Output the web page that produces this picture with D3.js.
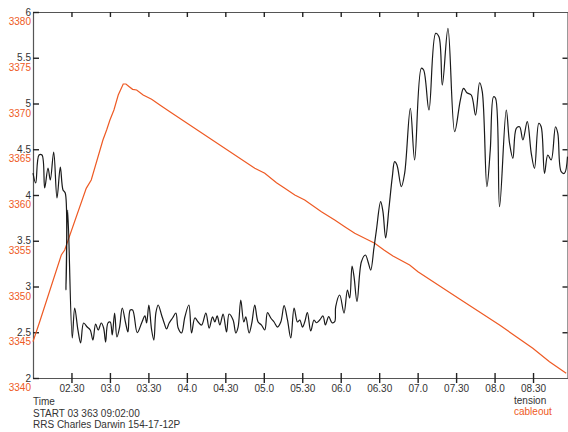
<!DOCTYPE html>
<html>
<head>
<meta charset="utf-8">
<script src="https://cdnjs.cloudflare.com/ajax/libs/d3/7.8.5/d3.min.js"></script>
<style>
    body { margin: 0; background: #fff; }
    text { font-family: "Liberation Sans", Arial, sans-serif; font-size: 10px; }
</style>
</head>
<body>
<div id="chart"></div>
<script>
// region Data
// time in decimal hours
const tensionTime = [
    2.000, 2.035, 2.078, 2.117, 2.152, 2.195, 2.225, 2.269, 2.312, 2.355, 2.390, 2.419,
    2.429, 2.451, 2.510, 2.542, 2.584, 2.619, 2.658, 2.705, 2.744, 2.779, 2.814, 2.848,
    2.887, 2.918, 2.944, 2.974, 3.004, 3.030, 3.061, 3.091, 3.126, 3.160, 3.204, 3.234,
    3.264, 3.295, 3.355, 3.412, 3.455, 3.477, 3.506, 3.542, 3.571, 3.597, 3.627, 3.671,
    3.705, 3.736, 3.770, 3.814, 3.857, 3.887, 3.931, 3.974, 4.026, 4.061, 4.104, 4.147,
    4.191, 4.247, 4.290, 4.334, 4.364, 4.394, 4.429, 4.471, 4.516, 4.549, 4.601, 4.636,
    4.666, 4.701, 4.740, 4.766, 4.809, 4.844, 4.883, 4.926, 4.970, 5.013, 5.048, 5.091,
    5.134, 5.178, 5.221, 5.264, 5.308, 5.351, 5.394, 5.438, 5.468, 5.503, 5.532, 5.567,
    5.610, 5.653, 5.684, 5.727, 5.770, 5.801, 5.844, 5.887, 5.922, 5.935, 5.987, 6.043,
    6.087, 6.117, 6.147, 6.173, 6.212, 6.269, 6.321, 6.355, 6.390, 6.432, 6.464, 6.519,
    6.549, 6.584, 6.627, 6.671, 6.701, 6.731, 6.788, 6.831, 6.905, 6.961, 7.048, 7.078,
    7.147, 7.234, 7.277, 7.321, 7.394, 7.481, 7.555, 7.597, 7.640, 7.697, 7.753, 7.805,
    7.840, 7.900, 7.944, 7.987, 8.013, 8.065, 8.152, 8.195, 8.238, 8.282, 8.325, 8.368,
    8.425, 8.477, 8.519, 8.575, 8.606, 8.649, 8.692, 8.736, 8.792, 8.822, 8.866, 8.909,
    8.948
];
const tension = [
    4.240, 4.131, 4.437, 4.437, 4.077, 4.295, 4.164, 4.470, 3.967, 4.306, 4.055, 4.022,
    2.962, 3.836, 2.437, 2.765, 2.525, 2.383, 2.601, 2.557, 2.525, 2.415, 2.590, 2.525,
    2.601, 2.546, 2.393, 2.601, 2.612, 2.470, 2.710, 2.448, 2.557, 2.765, 2.601, 2.503,
    2.743, 2.743, 2.495, 2.601, 2.678, 2.601, 2.798, 2.525, 2.415, 2.710, 2.798, 2.689,
    2.601, 2.536, 2.601, 2.656, 2.710, 2.546, 2.492, 2.667, 2.798, 2.492, 2.656, 2.612,
    2.579, 2.710, 2.546, 2.667, 2.612, 2.678, 2.579, 2.699, 2.503, 2.699, 2.634, 2.492,
    2.557, 2.852, 2.612, 2.667, 2.492, 2.601, 2.798, 2.612, 2.579, 2.525, 2.714, 2.656,
    2.612, 2.557, 2.612, 2.790, 2.634, 2.437, 2.765, 2.612, 2.634, 2.557, 2.612, 2.714,
    2.514, 2.634, 2.604, 2.634, 2.678, 2.579, 2.670, 2.604, 2.615, 2.779, 2.907, 2.710,
    2.962, 2.874, 3.224, 3.107, 2.834, 3.271, 3.344, 3.271, 3.180, 3.421, 3.617, 3.927,
    3.818, 3.530, 3.855, 4.200, 4.364, 4.328, 4.091, 4.237, 4.948, 4.383, 5.385, 5.366,
    4.929, 5.767, 5.730, 5.202, 5.822, 4.692, 5.038, 5.166, 5.118, 5.093, 4.874, 5.227,
    5.129, 4.091, 4.492, 5.074, 5.057, 3.872, 4.929, 4.565, 4.401, 4.729, 4.746, 4.601,
    4.801, 4.456, 4.292, 4.784, 4.746, 4.237, 4.437, 4.383, 4.746, 4.674, 4.255, 4.237,
    4.419
];
const cableTime = [
    2.000, 2.087, 2.368, 2.412, 2.692, 2.757, 2.909, 2.957, 3.000, 3.052, 3.108, 3.173,
    3.208, 3.251, 3.295, 3.347, 3.432, 3.542, 3.649, 3.779, 4.883, 5.013, 5.165, 5.273,
    5.403, 5.532, 5.749, 5.922, 6.052, 6.182, 6.312, 6.442, 6.562, 6.679, 6.896, 7.004,
    7.545, 8.065, 8.282, 8.497, 8.714, 8.931
];
const cableout = [
    3343.97, 3346.15, 3353.44, 3353.99, 3360.73, 3361.64, 3366.01, 3367.10, 3368.20, 3369.29, 3370.93, 3372.13,
    3372.13, 3371.84, 3371.55, 3371.48, 3370.93, 3370.46, 3369.84, 3369.10, 3362.92, 3362.37, 3361.34, 3360.73,
    3360.00, 3359.45, 3358.17, 3357.27, 3356.54, 3355.81, 3355.27, 3354.72, 3353.99, 3353.33, 3352.35, 3351.62,
    3348.63, 3345.79, 3344.51, 3343.25, 3341.78, 3340.51
];
const timeTicks = [2.5, 3, 3.5, 4, 4.5, 5, 5.5, 6, 6.5, 7, 7.5, 8, 8.5];
const timeLabels = ['02.30', '03.0', '03.30', '04.0', '04.30', '05.0', '05.30', '06.0', '06.30', '07.0', '07.30', '08.0', '08.30'];
const tensionTicks = [2, 2.5, 3, 3.5, 4, 4.5, 5, 5.5, 6];
const cableTicks = [3340, 3345, 3350, 3355, 3360, 3365, 3370, 3375, 3380];
const footer = ['Time', 'START 03 363 09:02:00', 'RRS Charles Darwin 154-17-12P'];
// endregion

let orange = '#ee5a24',
    ink = '#333',
    w = 568,
    h = 432,
    mLeft = 33,
    mRight = 567.5,
    mTop = 12,
    mBottom = 378;

let svg = d3.select('#chart')
    .append('svg')
    .attr('width', w)
    .attr('height', h);

const x = d3.scaleLinear().domain([2, 8.948]).range([mLeft, mRight]);
const y = d3.scaleLinear().domain([2, 6]).range([mBottom, mTop]);
const y2 = d3.scaleLinear().domain([3340, 3380]).range([mBottom, mTop]);

let styleAxis = g => {
    g.select('.domain').attr('stroke', '#555').attr('stroke-width', 1.2);
    g.selectAll('.tick line').attr('stroke', '#222').attr('stroke-width', 1.4);
    g.selectAll('.tick text').attr('fill', ink).style('font-size', '10px');
};

// region Axes
let xb = svg.append('g')
    .attr('transform', `translate(0,${mBottom})`)
    .call(d3.axisBottom(x).tickValues(timeTicks)
        .tickFormat((d, i) => timeLabels[i]).tickSizeOuter(0))
    .call(styleAxis);
xb.selectAll('.tick line').attr('y1', -5).attr('y2', 5);
xb.selectAll('.tick text').attr('y', 6.5);

svg.append('g')
    .attr('transform', `translate(0,${mTop})`)
    .call(d3.axisTop(x).tickValues(timeTicks).tickFormat('').tickSize(-5).tickSizeOuter(0))
    .call(styleAxis);

svg.append('g')
    .attr('transform', `translate(${mRight},0)`)
    .call(d3.axisRight(y).tickValues(tensionTicks.slice(1, -1)).tickFormat('').tickSize(-5).tickSizeOuter(0))
    .call(styleAxis);

svg.append('g')
    .attr('transform', `translate(${mLeft},0)`)
    .call(d3.axisLeft(y).tickValues(tensionTicks).tickFormat(d => String(d))
        .tickSize(-6).tickSizeOuter(0).tickPadding(2))
    .call(styleAxis);

let ya = svg.append('g')
    .attr('transform', `translate(${mLeft},0)`)
    .call(d3.axisLeft(y2).tickValues(cableTicks).tickFormat(d => String(d))
        .tickSize(0).tickPadding(2));
ya.select('.domain').remove();
ya.selectAll('.tick text')
    .attr('fill', orange)
    .attr('dy', '1.27em')
    .style('font-size', '10px');
// endregion

// region Lines
let cableLine = d3.line()
    .x((d, i) => x(cableTime[i]))
    .y(d => y2(d));

svg.append('path')
    .datum(cableout)
    .attr('fill', 'none')
    .attr('stroke', orange)
    .attr('stroke-width', 1.2)
    .attr('d', cableLine);

let tensionLine = d3.line()
    .x((d, i) => x(tensionTime[i]))
    .y(d => y(d))
    .curve(d3.curveCatmullRom.alpha(0.5));

svg.append('path')
    .datum(tension)
    .attr('fill', 'none')
    .attr('stroke', '#1a1a1a')
    .attr('stroke-width', 1.2)
    .attr('d', tensionLine);
// endregion

// region Footer
svg.selectAll('.footer')
    .data(footer).enter()
    .append('text')
    .attr('class', 'footer')
    .attr('x', mLeft)
    .attr('y', (d, i) => 405 + i * 11.7)
    .attr('fill', ink)
    .text(d => d);

svg.append('text')
    .attr('x', 514)
    .attr('y', 403.5)
    .attr('fill', ink)
    .text('tension');
svg.append('text')
    .attr('x', 514)
    .attr('y', 414.5)
    .attr('fill', orange)
    .text('cableout');
// endregion
</script>
</body>
</html>
